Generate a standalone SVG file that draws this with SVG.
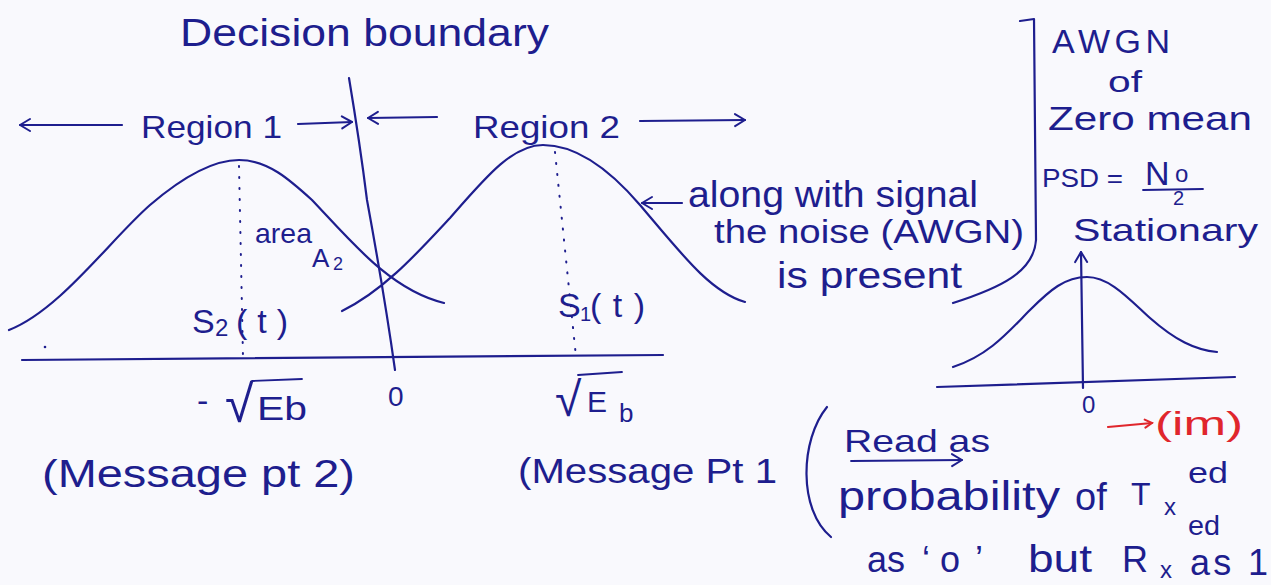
<svg xmlns="http://www.w3.org/2000/svg" width="1271" height="585" viewBox="0 0 1271 585">
<defs>
<style>
.ink{fill:none;stroke:#1e1e8e;stroke-width:2.2;stroke-linecap:round;stroke-linejoin:round}
.thin{fill:none;stroke:#1e1e8e;stroke-width:1.8;stroke-linecap:round}
.dot{fill:none;stroke:#1e1e8e;stroke-width:2;stroke-linecap:round;stroke-dasharray:1 10}
.red{fill:none;stroke:#e0262c;stroke-width:2.2;stroke-linecap:round}
text{font-family:"Liberation Sans","DejaVu Sans",sans-serif;fill:#1e1e8e}
.rt{fill:#e0262c}
</style>
<marker id="ah" markerWidth="16" markerHeight="16" refX="13" refY="8" orient="auto" markerUnits="userSpaceOnUse">
<path d="M3,2 L13,8 L3,14" fill="none" stroke="#1e1e8e" stroke-width="2" stroke-linecap="round" stroke-linejoin="round"/>
</marker>
<marker id="ahr" markerWidth="12" markerHeight="12" refX="10" refY="6" orient="auto" markerUnits="userSpaceOnUse">
<path d="M3,2 L10,6 L3,10" fill="none" stroke="#e0262c" stroke-width="2" stroke-linecap="round"/>
</marker>
</defs>
<rect width="1271" height="585" fill="#f9f9fd"/>

<g id="title">
<text x="180" y="46" font-size="38" textLength="369" lengthAdjust="spacingAndGlyphs">Decision boundary</text>
</g>

<g id="decision-line">
<path class="ink" d="M349,78 C356,120 362,160 367,200 C378,260 388,320 395,370"/>
</g>

<g id="axis-main">
<path class="ink" d="M22,360 L663,355"/>
<circle cx="45" cy="347" r="1.3" fill="#1e1e8e"/>
</g>

<g id="gaussian-s2">
<path class="ink" d="M9,330 C60,310 110,240 150,205 C185,175 215,160 239,160 C268,160 290,180 312,200 C350,240 390,290 444,303"/>
<path class="dot" d="M239,166 L243,357"/>
</g>

<g id="gaussian-s1">
<path class="ink" d="M342,311 C385,290 420,250 450,218 C485,178 512,145 543,145 C578,145 610,170 640,205 C680,252 710,292 745,302"/>
<path class="dot" d="M555,152 L576,357"/>
</g>

<g id="connectors">
<path class="ink" d="M122,125 L20,125" marker-end="url(#ah)"/>
<path class="ink" d="M298,124 L352,122" marker-end="url(#ah)"/>
<path class="ink" d="M437,117 L368,118" marker-end="url(#ah)"/>
<path class="ink" d="M640,121 L745,120" marker-end="url(#ah)"/>
<path class="ink" d="M682,203 L642,203" marker-end="url(#ah)"/>
<path class="thin" d="M851,461 L962,460" marker-end="url(#ah)"/>
<path class="red" d="M1108,427 L1152,423" marker-end="url(#ahr)"/>
</g>

<g id="region-labels">
<text x="141" y="138" font-size="32" textLength="141" lengthAdjust="spacingAndGlyphs">Region 1</text>
<text x="473" y="138" font-size="32" textLength="147" lengthAdjust="spacingAndGlyphs">Region 2</text>
</g>

<g id="area-label">
<text font-size="28"><tspan x="255" y="243" textLength="57" lengthAdjust="spacingAndGlyphs">area</tspan><tspan x="312" y="267" font-size="26">A</tspan><tspan x="333" y="270" font-size="18">2</tspan></text>
</g>

<g id="signal-labels">
<text font-size="34"><tspan x="192" y="333">S</tspan><tspan x="215" y="336" font-size="24">2</tspan><tspan x="236" y="333" textLength="52" lengthAdjust="spacing">(t)</tspan></text>
<text font-size="34"><tspan x="558" y="317">S</tspan><tspan x="580" y="321" font-size="20">1</tspan><tspan x="590" y="317" textLength="55" lengthAdjust="spacing">(t)</tspan></text>
</g>

<g id="axis-values">
<text font-size="34"><tspan x="197" y="412">-</tspan><tspan x="225" y="422" font-size="52">√</tspan><tspan x="257" y="420" textLength="50" lengthAdjust="spacingAndGlyphs">Eb</tspan></text>
<path class="thin" d="M252,381 L302,379"/>
<text x="388" y="406" font-size="28">0</text>
<text font-size="30"><tspan x="555" y="416" font-size="48">√</tspan><tspan x="587" y="412">E</tspan><tspan x="619" y="422" font-size="26">b</tspan></text>
<path class="thin" d="M578,375 L622,372"/>
</g>

<g id="message-labels">
<text x="42" y="487" font-size="38" textLength="313" lengthAdjust="spacingAndGlyphs">(Message pt 2)</text>
<text x="518" y="483" font-size="35" textLength="259" lengthAdjust="spacingAndGlyphs">(Message Pt 1</text>
</g>

<g id="read-as-note">
<path class="ink" d="M827,407 C800,440 798,510 831,537"/>
<text x="844" y="452" font-size="32" textLength="146" lengthAdjust="spacingAndGlyphs">Read as</text>
<text font-size="38"><tspan x="838" y="510" font-size="40" textLength="222" lengthAdjust="spacingAndGlyphs">probability</tspan><tspan x="1075" y="510">of</tspan><tspan x="1131" y="505" font-size="32">T</tspan><tspan x="1164" y="515" font-size="24">x</tspan><tspan x="1188" y="483" font-size="30" textLength="40" lengthAdjust="spacingAndGlyphs">ed</tspan></text>
<text font-size="36"><tspan x="867" y="572">as</tspan><tspan x="922 940 975" y="572">‘o’</tspan><tspan x="1028" y="572" font-size="38" textLength="64" lengthAdjust="spacingAndGlyphs">but</tspan><tspan x="1122" y="572">R</tspan><tspan x="1160" y="578" font-size="24">x</tspan><tspan x="1188" y="535" font-size="28" textLength="32" lengthAdjust="spacingAndGlyphs">ed</tspan><tspan x="1190" y="575" textLength="78" lengthAdjust="spacing">as 1</tspan></text>
</g>

<g id="noise-note">
<text x="688" y="207" font-size="36" textLength="290" lengthAdjust="spacingAndGlyphs">along with signal</text>
<text x="714" y="243" font-size="33" textLength="310" lengthAdjust="spacingAndGlyphs">the noise (AWGN)</text>
<text x="777" y="288" font-size="36" textLength="185" lengthAdjust="spacingAndGlyphs">is present</text>
<path class="ink" d="M1020,21 L1034,19 L1036,240 C1034,272 1000,288 953,303"/>
</g>

<g id="awgn-note">
<text x="1052" y="53" font-size="34" textLength="118" lengthAdjust="spacing">AWGN</text>
<text x="1108" y="92" font-size="30" textLength="34" lengthAdjust="spacingAndGlyphs">of</text>
<text x="1048" y="130" font-size="34" textLength="204" lengthAdjust="spacingAndGlyphs">Zero mean</text>
<text x="1042" y="187" font-size="26" textLength="81" lengthAdjust="spacingAndGlyphs">PSD =</text>
<text font-size="34"><tspan x="1145" y="185">N</tspan><tspan x="1175" y="182" font-size="24">o</tspan></text>
<path class="thin" d="M1143,190 L1203,189"/>
<text x="1173" y="205" font-size="20">2</text>
<text x="1073" y="241" font-size="32" textLength="185" lengthAdjust="spacingAndGlyphs">Stationary</text>
</g>

<g id="noise-pdf">
<path class="ink" d="M953,367 C990,355 1010,330 1030,310 C1050,290 1065,277 1087,277 C1110,277 1130,300 1150,318 C1175,340 1195,350 1217,352"/>
<path class="ink" d="M937,387 L1235,377"/>
<path class="ink" d="M1083,388 L1081,252" marker-end="url(#ah)"/>
<text x="1082" y="413" font-size="24">0</text>
<text class="rt" x="1155" y="435" font-size="34" textLength="88" lengthAdjust="spacingAndGlyphs">(im)</text>
</g>
</svg>
